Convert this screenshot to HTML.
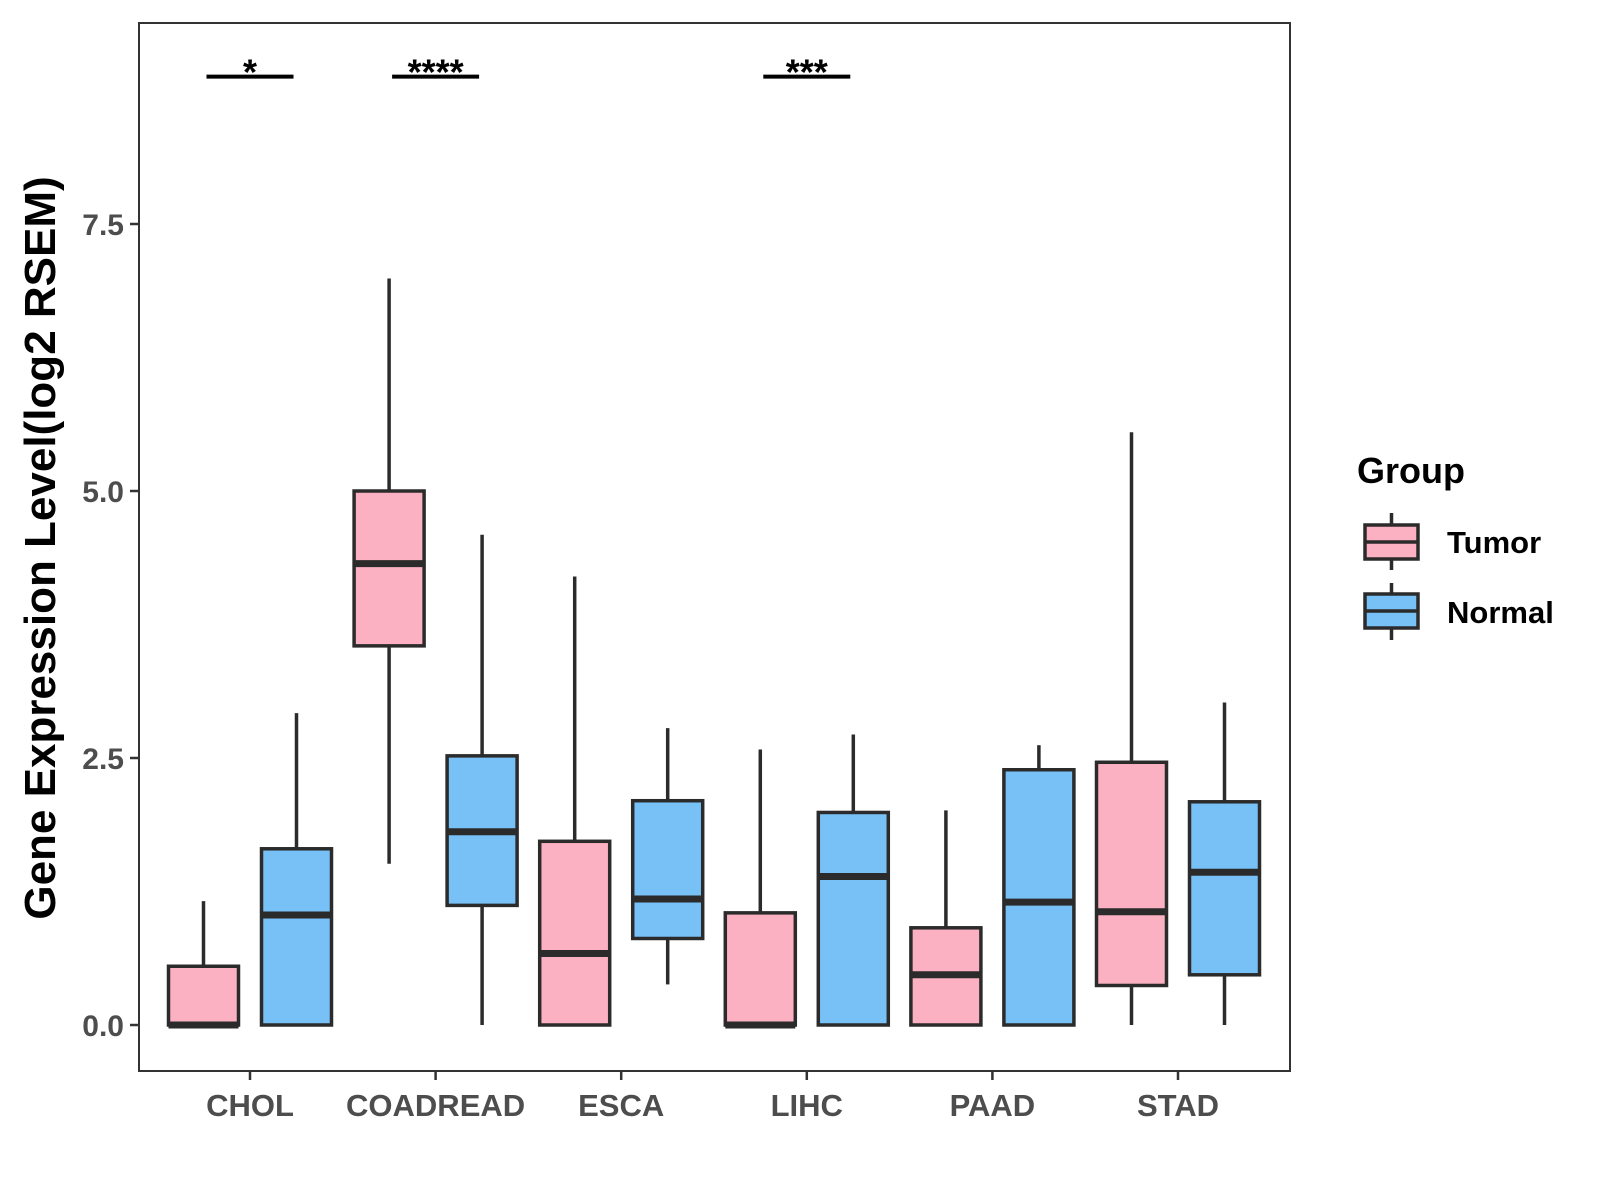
<!DOCTYPE html>
<html><head><meta charset="utf-8"><style>
html,body{margin:0;padding:0;background:#fff;}
svg{display:block;font-family:"Liberation Sans",sans-serif;}
</style></head><body>
<svg id="chart" width="1600" height="1200" viewBox="0 0 1600 1200">
<rect x="0" y="0" width="1600" height="1200" fill="#fff"/>
<g id="marks"></g>
<rect x="139" y="23" width="1151" height="1048" fill="none" stroke="#333" stroke-width="2"/>
<g id="axes"></g>
<text x="0" y="0" transform="translate(55,548) rotate(-90)" text-anchor="middle" font-size="44" font-weight="bold" fill="#000">Gene Expression Level(log2 RSEM)</text>
<g>
<text x="1357" y="483" font-size="36" font-weight="bold" fill="#000">Group</text>
<g>
<line x1="1391.5" y1="513" x2="1391.5" y2="570" stroke="#2b2b2b" stroke-width="3.5"/>
<rect x="1365" y="525" width="53" height="34" fill="#fcb1c3" stroke="#2b2b2b" stroke-width="3.5"/>
<line x1="1365" y1="542" x2="1418" y2="542" stroke="#2b2b2b" stroke-width="3.5"/>
<text x="1447" y="553" font-size="31" font-weight="bold" fill="#000">Tumor</text>
</g>
<g>
<line x1="1391.5" y1="583" x2="1391.5" y2="640" stroke="#2b2b2b" stroke-width="3.5"/>
<rect x="1365" y="594" width="53" height="34" fill="#78c1f7" stroke="#2b2b2b" stroke-width="3.5"/>
<line x1="1365" y1="611" x2="1418" y2="611" stroke="#2b2b2b" stroke-width="3.5"/>
<text x="1447" y="623" font-size="31" font-weight="bold" fill="#000">Normal</text>
</g>
</g>
</svg>
<script>
const categories = ["CHOL","COADREAD","ESCA","LIHC","PAAD","STAD"];
const groups = ["Tumor","Normal"];
// [min, q1, median, q3, max] per category
const tumorStats = [
  [0,0,0,0.55,1.16],
  [1.51,3.55,4.32,5.0,6.99],
  [0,0,0.67,1.72,4.2],
  [0,0,0,1.05,2.58],
  [0,0,0.47,0.91,2.01],
  [0,0.37,1.06,2.46,5.55]
];
const normalStats = [
  [0,0,1.03,1.65,2.92],
  [0,1.12,1.81,2.52,4.59],
  [0.38,0.81,1.18,2.1,2.78],
  [0,0,1.39,1.99,2.72],
  [0,0,1.15,2.39,2.62],
  [0,0.47,1.43,2.09,3.02]
];
const yTicks = [0,2.5,5,7.5];
const yTickLabels = ["0.0","2.5","5.0","7.5"];
const sigCategories = ["CHOL","COADREAD","LIHC"];
const sigLabels = ["*","****","***"];
const sigLevel = 8.88;

const NS="http://www.w3.org/2000/svg";
function y(v){return 1025 - v*106.8;}
function xCat(i){return 250 + i*185.6;}
const colors=["#fcb1c3","#78c1f7"];
const dodge=46.5, bw=70;
const marks=document.getElementById('marks');
const axes=document.getElementById('axes');
function mk(tag,attrs,parent){const e=document.createElementNS(NS,tag);for(const k in attrs)e.setAttribute(k,attrs[k]);parent.appendChild(e);return e;}

[tumorStats,normalStats].forEach((stats,gi)=>{
  stats.forEach((s,ci)=>{
    const cx=xCat(ci)+(gi===0?-dodge:dodge);
    const g=mk('g',{},marks);
    
    
    mk('line',{x1:cx,x2:cx,y1:y(s[4]),y2:y(s[3]),stroke:'#2b2b2b','stroke-width':3.5},g);
    mk('line',{x1:cx,x2:cx,y1:y(s[1]),y2:y(s[0]),stroke:'#2b2b2b','stroke-width':3.5},g);
    mk('rect',{x:cx-bw/2,y:y(s[3]),width:bw,height:Math.max(0,y(s[1])-y(s[3])),fill:colors[gi],stroke:'#2b2b2b','stroke-width':3.5},g);
    mk('line',{x1:cx-bw/2,x2:cx+bw/2,y1:y(s[2]),y2:y(s[2]),stroke:'#2b2b2b','stroke-width':7},g);
  });
});

sigCategories.forEach((c,k)=>{
  const ci=categories.indexOf(c);
  const g=mk('g',{},marks);
  
  
  mk('line',{x1:xCat(ci)-43.5,x2:xCat(ci)+43.5,y1:y(sigLevel),y2:y(sigLevel),stroke:'#000','stroke-width':4},g);
  const t=mk('text',{x:xCat(ci),y:y(sigLevel)+8,'text-anchor':'middle','font-size':36,'font-weight':'bold',fill:'#000'},g);
  t.textContent=sigLabels[k];
});

yTicks.forEach((v,i)=>{
  const g=mk('g',{},axes);
  
  
  mk('line',{x1:130,x2:139,y1:y(v),y2:y(v),stroke:'#333','stroke-width':2.5},g);
  const t=mk('text',{x:124,y:y(v)+11,'text-anchor':'end','font-size':30,'font-weight':'bold',fill:'#4d4d4d'},g);
  t.textContent=yTickLabels[i];
});
categories.forEach((c,i)=>{
  const g=mk('g',{},axes);
  
  
  mk('line',{x1:xCat(i),x2:xCat(i),y1:1071,y2:1080,stroke:'#333','stroke-width':2.5},g);
  const t=mk('text',{x:xCat(i),y:1116,'text-anchor':'middle','font-size':31,'font-weight':'bold',fill:'#4d4d4d'},g);
  t.textContent=c;
});
</script>
</body></html>
